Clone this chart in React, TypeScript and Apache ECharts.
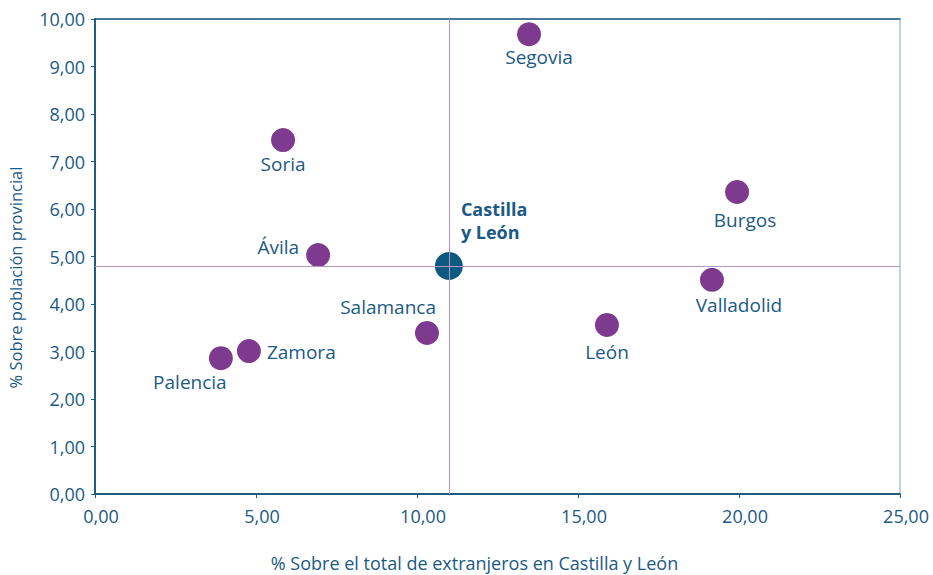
import React, { useEffect, useRef } from "react";
import * as echarts from "echarts";

const provinces = ["Segovia", "Soria", "Burgos", "Ávila", "Valladolid", "León", "Salamanca", "Zamora", "Palencia"];
const pctExtranjeros = [13.48, 5.84, 19.94, 6.93, 19.16, 15.9, 10.31, 4.78, 3.91];
const pctPoblacion = [9.68, 7.45, 6.36, 5.03, 4.51, 3.56, 3.39, 3.01, 2.86];
const regionName = "Castilla\ny León";
const regionX = 10.99;
const regionY = 4.8;
const xTicks = [0, 5, 10, 15, 20, 25];
const yTicks = [0, 1, 2, 3, 4, 5, 6, 7, 8, 9, 10];

const labelLayout: Record<string, { position: string; offset: [number, number] }> = {
  Segovia: { position: "bottom", offset: [10, -5] },
  Soria: { position: "bottom", offset: [0, -4] },
  Burgos: { position: "bottom", offset: [8, 1] },
  "Ávila": { position: "left", offset: [-1, -8] },
  Valladolid: { position: "bottom", offset: [27, -2] },
  "León": { position: "bottom", offset: [0, 0] },
  Salamanca: { position: "left", offset: [27, -26] },
  Zamora: { position: "right", offset: [0, 1] },
  Palencia: { position: "bottom", offset: [-31, -4] },
};

const TEXT = "#1B5A84";
const AXIS = "#1F5C82";
const fmt = (v: number) => v.toFixed(2).replace(".", ",");

export default function App() {
  const ref = useRef<HTMLDivElement>(null);
  useEffect(() => {
    if (!ref.current) return;
    const chart = echarts.init(ref.current, undefined, { renderer: "svg" });
    const data = provinces.map((p, i) => ({
      name: p,
      value: [pctExtranjeros[i], pctPoblacion[i]],
      label: { show: true, position: labelLayout[p].position, offset: labelLayout[p].offset },
    }));
    chart.setOption({
      animation: false,
      textStyle: { fontFamily: "Open Sans" },
      grid: {
        left: 95,
        top: 19,
        right: 33,
        bottom: 81,
        outerBoundsMode: "none",
        containLabel: false,
        show: true,
        borderColor: "#7FA6BF",
        borderWidth: 1,
        backgroundColor: "transparent",
      },
      xAxis: [
        {
          type: "value",
          min: xTicks[0],
          max: xTicks[xTicks.length - 1],
          interval: 5,
          name: "% Sobre el total de extranjeros en Castilla y León",
          nameLocation: "middle",
          nameGap: 60,
          nameTextStyle: { color: TEXT, fontSize: 18, padding: [0, 46, 0, 0] },
          axisLine: { lineStyle: { color: AXIS, width: 2 } },
          axisTick: { show: true, length: 4, lineStyle: { color: AXIS } },
          axisLabel: { color: TEXT, fontSize: 18, margin: 13, padding: [0, 0, 0, 12], formatter: (v: number) => fmt(v) },
          splitLine: { show: false },
        },
        {
          type: "value",
          position: "top",
          min: xTicks[0],
          max: xTicks[xTicks.length - 1],
          interval: 5,
          axisLine: { show: true, lineStyle: { color: AXIS, width: 1.5 } },
          axisTick: { show: false },
          axisLabel: { show: false },
          splitLine: { show: false },
        },
      ],
      yAxis: {
        type: "value",
        min: yTicks[0],
        max: yTicks[yTicks.length - 1],
        interval: 1,
        name: "% Sobre población provincial",
        nameLocation: "middle",
        nameGap: 71,
        nameTextStyle: { color: TEXT, fontSize: 16.5, padding: [0, 42, 0, 0] },
        axisLine: { lineStyle: { color: AXIS, width: 2 } },
        axisTick: { show: true, length: 4, lineStyle: { color: AXIS } },
        axisLabel: { color: TEXT, fontSize: 18, margin: 10, formatter: (v: number) => fmt(v) },
        splitLine: { show: false },
      },
      series: [
        {
          type: "scatter",
          symbolSize: 24,
          itemStyle: { color: "#7D3A8E", opacity: 1 },
          label: { color: TEXT, fontSize: 19, formatter: "{b}", distance: 6 },
          data,
          z: 3,
        },
        {
          type: "scatter",
          symbolSize: 28,
          itemStyle: { color: "#0C5A80", opacity: 1 },
          label: {
            show: true,
            position: "right",
            offset: [-7, -46],
            color: TEXT,
            fontSize: 18,
            fontWeight: "bold",
            lineHeight: 23,
            align: "left",
            formatter: "{b}",
          },
          data: [{ name: regionName, value: [regionX, regionY] }],
          markLine: {
            silent: true,
            symbol: "none",
            label: { show: false },
            lineStyle: { color: "#B895C4", type: "solid", width: 1 },
            data: [{ xAxis: regionX }, { yAxis: regionY }],
          },
          z: 4,
        },
      ],
    });
    return () => chart.dispose();
  }, []);
  return <div ref={ref} style={{ position: "absolute", left: 0, top: 0, width: 933, height: 575 }} />;
}
